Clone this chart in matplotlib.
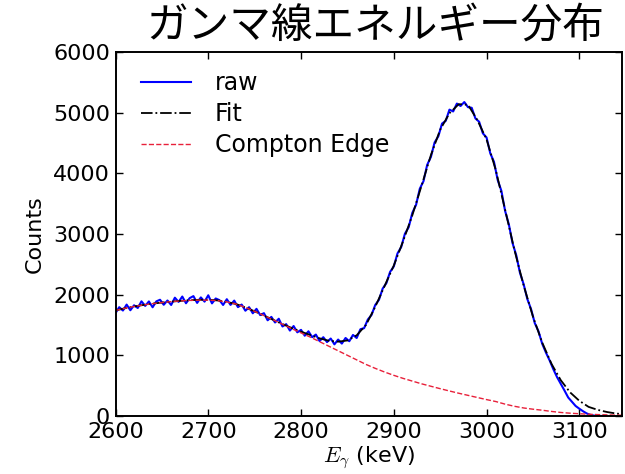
import numpy as np
import matplotlib
matplotlib.use("Agg")
import matplotlib.pyplot as plt

plt.rcParams['font.family'] = ['DejaVu Sans', 'Noto Sans CJK JP']
plt.rcParams['mathtext.fontset'] = 'cm'

# Measured spectrum, 4 keV bins
raw_start, raw_step = 2600, 4
raw_counts = [
    1695, 1794, 1738, 1836, 1743, 1825, 1780, 1890, 1814, 1888,
    1792, 1889, 1916, 1833, 1904, 1830, 1950, 1880, 1969, 1858,
    1943, 1976, 1864, 1955, 1885, 1990, 1856, 1937, 1910, 1830,
    1925, 1831, 1902, 1794, 1837, 1735, 1794, 1693, 1766, 1663,
    1695, 1577, 1634, 1541, 1603, 1475, 1514, 1408, 1483, 1379,
    1420, 1323, 1396, 1299, 1342, 1235, 1299, 1218, 1277, 1181,
    1260, 1193, 1286, 1232, 1336, 1285, 1430, 1448, 1590, 1665,
    1830, 1915, 2100, 2190, 2375, 2465, 2680, 2785, 3005, 3110,
    3350, 3480, 3745, 3870, 4140, 4270, 4510, 4610, 4820, 4865,
    5050, 5020, 5150, 5110, 5175, 5090, 5080, 4905, 4850, 4660,
    4590, 4330, 4190, 3890, 3710, 3380, 3160, 2850, 2650, 2360,
    2170, 1925, 1760, 1530, 1395, 1190, 1045, 915, 770, 640,
    530, 420, 305, 235, 165, 120, 78, 42, 18, 6,
    2, 0, 0,
]

# Fitted model and its Compton-edge component, 10 keV grid
model_energy = list(range(2600, 3151, 10))
fit_counts = [
    1740, 1775, 1805, 1830, 1852, 1870, 1885, 1897, 1908, 1915,
    1915, 1905, 1880, 1845, 1790, 1725, 1655, 1585, 1515, 1450,
    1390, 1335, 1280, 1240, 1225, 1245, 1330, 1500, 1800, 2140,
    2480, 2880, 3310, 3800, 4300, 4720, 4990, 5140, 5130, 4880,
    4560, 4050, 3400, 2740, 2150, 1640, 1210, 860, 590, 390,
    250, 150, 100, 65, 40, 25,
]
compton_counts = [
    1740, 1775, 1805, 1830, 1852, 1870, 1885, 1897, 1905, 1910,
    1910, 1902, 1880, 1845, 1790, 1725, 1655, 1585, 1512, 1440,
    1370, 1300, 1225, 1150, 1075, 1000, 925, 850, 785, 725,
    670, 620, 575, 530, 490, 450, 412, 375, 340, 305,
    270, 238, 195, 160, 132, 112, 95, 75, 58, 46,
    37, 29, 23, 18, 14, 11,
]

x_ticks = [2600, 2700, 2800, 2900, 3000, 3100]
y_ticks = [0, 1000, 2000, 3000, 4000, 5000, 6000]

raw_energy = raw_start + raw_step * np.arange(len(raw_counts))

fig = plt.figure(figsize=(6.25, 4.74), dpi=100)
ax = fig.add_axes([0.1848, 0.1224, 0.8104, 0.7679])

ax.plot(raw_energy, raw_counts, color='#0000ff', lw=1.5, label='raw')
ax.plot(model_energy, fit_counts, color='black', ls='-.', lw=1.3, label='Fit')
ax.plot(model_energy, compton_counts, color='#e8203a', ls='--', lw=1.0,
        label='Compton Edge')

ax.set_xlim(2600, 3146)
ax.set_ylim(0, 6000)
ax.set_xticks(x_ticks)
ax.set_yticks(y_ticks)
ax.tick_params(direction='in', top=True, right=True, length=5, width=1,
               labelsize=16, pad=4)
for s in ax.spines.values():
    s.set_linewidth(1.4)

ax.set_ylabel('Counts', fontsize=16, labelpad=6)
ax.set_xlabel(r'$E_\gamma$ (keV)', fontsize=16, labelpad=2)

ax.legend(loc='upper left', bbox_to_anchor=(0.014, 1.0), frameon=False,
          fontsize=17, handlelength=2.1, handletextpad=1.0, labelspacing=0.3,
          borderaxespad=0.4)

fig.text(0.60, 0.944, 'ガンマ線エネルギー分布', family=['Noto Sans CJK JP'],
         fontsize=30, ha='center', va='center')

fig.savefig('out.png', dpi=100)
